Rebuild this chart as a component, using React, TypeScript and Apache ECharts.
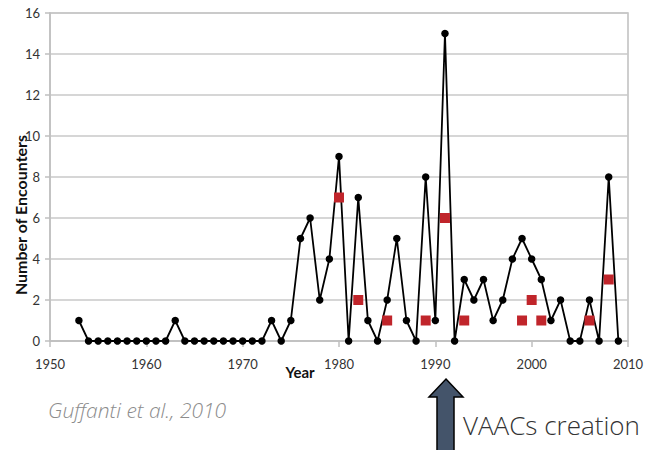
import React, { useEffect, useRef } from "react";
import * as echarts from "echarts";

const years = [
  1953, 1954, 1955, 1956, 1957, 1958, 1959, 1960, 1961, 1962,
  1963, 1964, 1965, 1966, 1967, 1968, 1969, 1970, 1971, 1972,
  1973, 1974, 1975, 1976, 1977, 1978, 1979, 1980, 1981, 1982,
  1983, 1984, 1985, 1986, 1987, 1988, 1989, 1990, 1991, 1992,
  1993, 1994, 1995, 1996, 1997, 1998, 1999, 2000, 2001, 2002,
  2003, 2004, 2005, 2006, 2007, 2008, 2009,
];
const encounters = [
  1, 0, 0, 0, 0, 0, 0, 0, 0, 0,
  1, 0, 0, 0, 0, 0, 0, 0, 0, 0,
  1, 0, 1, 5, 6, 2, 4, 9, 0, 7,
  1, 0, 2, 5, 1, 0, 8, 1, 15, 0,
  3, 2, 3, 1, 2, 4, 5, 4, 3, 1,
  2, 0, 0, 2, 0, 8, 0,
];
const redYears = [1980, 1982, 1985, 1989, 1991, 1993, 1999, 2000, 2001, 2006, 2008];
const redValues = [7, 2, 1, 1, 6, 1, 1, 2, 1, 1, 3];

const FONT = "Lato, 'Open Sans', sans-serif";
const LIGHT = "'Open Sans', sans-serif";

export default function App() {
  const ref = useRef<HTMLDivElement>(null);
  useEffect(() => {
    if (!ref.current) return;
    const chart = echarts.init(ref.current, null, { renderer: "svg" });
    chart.setOption({
      animation: false,
      backgroundColor: "#ffffff",
      grid: {
        left: 50,
        right: 20,
        top: 13,
        bottom: 109,
        show: true,
        borderColor: "#bfbfbf",
        borderWidth: 1.5,
      },
      xAxis: {
        type: "value",
        min: 1950,
        max: 2010,
        interval: 10,
        axisLine: { show: true, lineStyle: { color: "#bfbfbf", width: 1.5 } },
        axisTick: { show: true, length: 6, lineStyle: { color: "#bfbfbf", width: 1.5 } },
        splitLine: { show: false },
        axisLabel: {
          color: "#333333",
          fontSize: 13,
          fontFamily: FONT,
          margin: 16,
          formatter: (v: number) => String(v),
        },
      },
      yAxis: {
        type: "value",
        min: 0,
        max: 16,
        interval: 2,
        axisLine: { show: true, lineStyle: { color: "#bfbfbf", width: 1.5 } },
        axisTick: { show: true, length: 5, lineStyle: { color: "#bfbfbf", width: 1.5 } },
        splitLine: { show: true, lineStyle: { color: "#c8c8c8", width: 1.5 } },
        axisLabel: { color: "#333333", fontSize: 13, fontFamily: FONT, margin: 10 },
      },
      series: [
        {
          type: "line",
          data: years.map((y, i) => [y, encounters[i]]),
          symbol: "circle",
          symbolSize: 7.5,
          lineStyle: { color: "#000000", width: 1.8 },
          itemStyle: { color: "#000000" },
          z: 2,
        },
        {
          type: "scatter",
          data: redYears.map((y, i) => [y, redValues[i]]),
          symbol: "rect",
          symbolSize: 10,
          itemStyle: { color: "#c0252b", opacity: 1 },
          z: 3,
        },
      ],
      graphic: [
        {
          type: "text",
          x: 20,
          y: 215,
          rotation: Math.PI / 2,
          style: {
            text: "Number of Encounters",
            fontFamily: FONT,
            fontWeight: "bold",
            fontSize: 16,
            fill: "#111111",
            align: "center",
            verticalAlign: "middle",
          },
        },
        {
          type: "text",
          x: 300,
          y: 372,
          style: {
            text: "Year",
            fontFamily: FONT,
            fontWeight: "bold",
            fontSize: 15,
            fill: "#111111",
            align: "center",
            verticalAlign: "middle",
          },
        },
        {
          type: "text",
          x: 48,
          y: 410,
          style: {
            text: "Guffanti et al., 2010",
            fontFamily: LIGHT,
            fontStyle: "italic",
            fontWeight: 300,
            fontSize: 21,
            fill: "#8c8c8c",
            align: "left",
            verticalAlign: "middle",
          },
        },
        {
          type: "text",
          x: 463,
          y: 425,
          style: {
            text: "VAACs creation",
            fontFamily: LIGHT,
            fontWeight: 300,
            fontSize: 26,
            fill: "#333333",
            align: "left",
            verticalAlign: "middle",
          },
        },
        {
          type: "polygon",
          shape: {
            points: [
              [446, 379],
              [463, 397],
              [454, 397],
              [454, 451],
              [437, 451],
              [437, 397],
              [429, 397],
            ],
          },
          style: { fill: "#44546a", stroke: "#000000", lineWidth: 1.5 },
        },
      ],
    });
    return () => chart.dispose();
  }, []);
  return (
    <div
      ref={ref}
      style={{ position: "fixed", left: 0, top: 0, width: 648, height: 450 }}
    />
  );
}
